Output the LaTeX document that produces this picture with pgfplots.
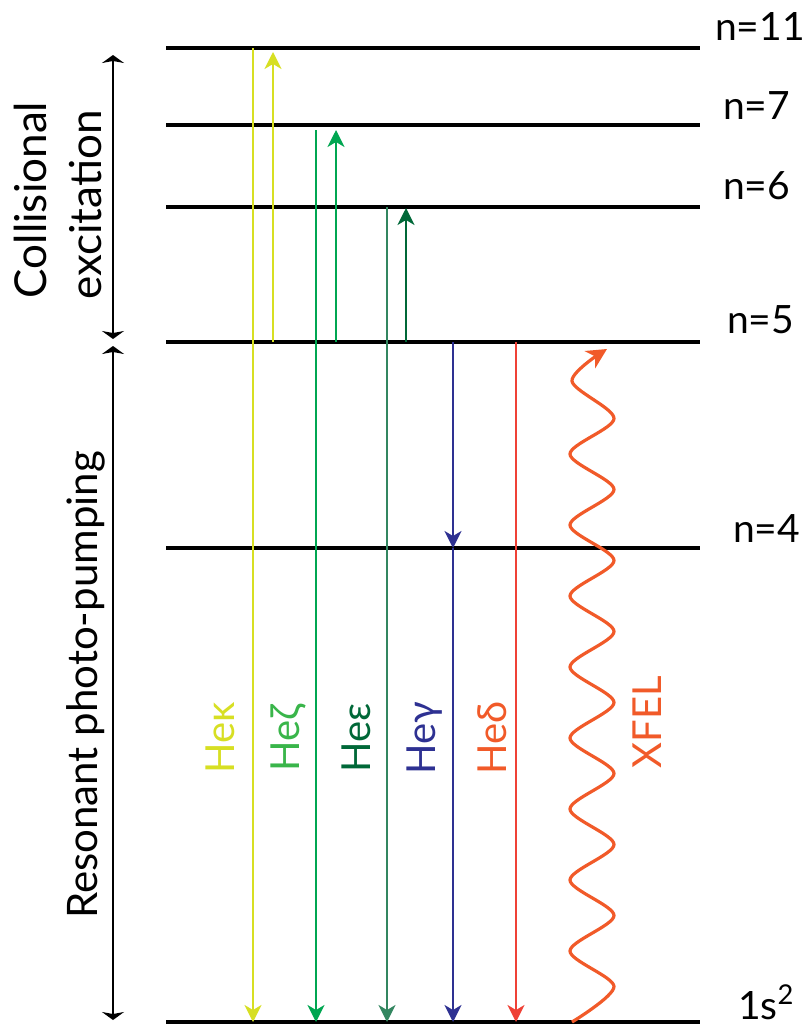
\documentclass[border=0pt]{standalone}
\usepackage{pgfplots}
\pgfplotsset{compat=1.18}
\usepackage{fontspec}
\setmainfont{Lato}
\usetikzlibrary{arrows.meta}
\definecolor{cK}{RGB}{215,223,35}
\definecolor{cZl}{RGB}{0,166,81}
\definecolor{cZt}{RGB}{57,181,74}
\definecolor{cE}{RGB}{0,104,56}
\definecolor{cG}{RGB}{46,49,146}
\definecolor{cDl}{RGB}{239,65,54}
\definecolor{cDt}{RGB}{241,90,41}
\definecolor{cX}{RGB}{241,90,41}
\tikzset{
  tr/.style={line width=1pt},
  ah/.style={-{Stealth[length=8.5pt,width=8.5pt,inset=2.5pt]}},
  lv/.style={anchor=west, font=\fontsize{19.5}{22}\selectfont},
}
\begin{document}
\begin{tikzpicture}
\clip (0,0) rectangle (403.5pt,514pt);
\begin{axis}[
  scale only axis, width=403.5pt, height=514pt,
  xmin=0, xmax=807, ymin=0, ymax=1028, y dir=reverse,
  hide axis, clip=false,
]
% energy levels
\addplot[black, line width=2pt] coordinates {(166,48) (700,48)};
\addplot[black, line width=2pt] coordinates {(166,125) (700,125)};
\addplot[black, line width=2pt] coordinates {(166,207) (700,207)};
\addplot[black, line width=2pt] coordinates {(166,342) (700,342)};
\addplot[black, line width=2pt] coordinates {(166,548) (700,548)};
\addplot[black, line width=2pt] coordinates {(166,1022) (700,1022)};
% left brackets
\addplot[black, line width=0.75pt, {Stealth[length=4pt,width=11pt,inset=1pt]}-{Stealth[length=4pt,width=11pt,inset=1pt]}] coordinates {(113,55) (113,339)};
\addplot[black, line width=0.75pt, {Stealth[length=4pt,width=11pt,inset=1pt]}-{Stealth[length=4pt,width=11pt,inset=1pt]}] coordinates {(113,346) (113,1020)};
% He kappa
\addplot[cK, tr, ah] coordinates {(253,48) (253,1022)};
\addplot[cK, tr, ah] coordinates {(273,342) (273,52)};
% He zeta
\addplot[cZl, tr, ah] coordinates {(316,130) (316,1022)};
\addplot[cZl, tr, ah] coordinates {(336,342) (336,130)};
% He epsilon
\addplot[cE!80!white, tr, ah] coordinates {(387,207) (387,1022)};
\addplot[cE, tr, ah] coordinates {(406,342) (406,208)};
% He gamma
\addplot[cG, tr, ah] coordinates {(453,342) (453,548)};
\addplot[cG, tr, ah] coordinates {(453,548) (453,1022)};
% He delta
\addplot[cDl, tr, ah] coordinates {(516,342) (516,1022)};
% XFEL wave
\addplot[cX, line width=1.6pt, smooth, -{Stealth[length=10pt,width=10pt,inset=3pt]}] coordinates {
 (572,1022) (614,986.5) (570,951) (614,915.5) (570,880) (614,844.5) (570,809)
 (614,773.5) (570,738) (614,702.5) (570,667) (614,631.5) (570,596) (614,560.5)
 (570,525) (614,489.5) (570,454) (614,418.5) (572,381) (607,349)};
% labels
\node[lv] at (axis cs:708,26) {n=11};
\node[lv] at (axis cs:716,105.5) {n=7};
\node[lv] at (axis cs:716,186) {n=6};
\node[lv] at (axis cs:720,320) {n=5};
\node[lv] at (axis cs:726,529) {n=4};
\node[lv] at (axis cs:731,1002) {1s\textsuperscript{2}};
\node[rotate=90, font=\fontsize{22}{26}\selectfont] at (axis cs:30,200) {Collisional};
\node[rotate=90, font=\fontsize{22}{26}\selectfont] at (axis cs:86,205) {excitation};
\node[rotate=90, font=\fontsize{21}{26}\selectfont] at (axis cs:86,685) {Resonant photo-pumping};
\node[rotate=90, font=\fontsize{20}{24}\selectfont, text=cK] at (axis cs:220,738) {Heκ};
\node[rotate=90, font=\fontsize{20}{24}\selectfont, text=cZt] at (axis cs:288,738) {Heζ};
\node[rotate=90, font=\fontsize{20}{24}\selectfont, text=cE] at (axis cs:356,738) {Heε};
\node[rotate=90, font=\fontsize{20}{24}\selectfont, text=cG] at (axis cs:425,738) {Heγ};
\node[rotate=90, font=\fontsize{20}{24}\selectfont, text=cDt] at (axis cs:492,738) {Heδ};
\node[rotate=90, font=\fontsize{20}{24}\selectfont, text=cX] at (axis cs:647,722) {XFEL};
\end{axis}
\end{tikzpicture}
\end{document}
